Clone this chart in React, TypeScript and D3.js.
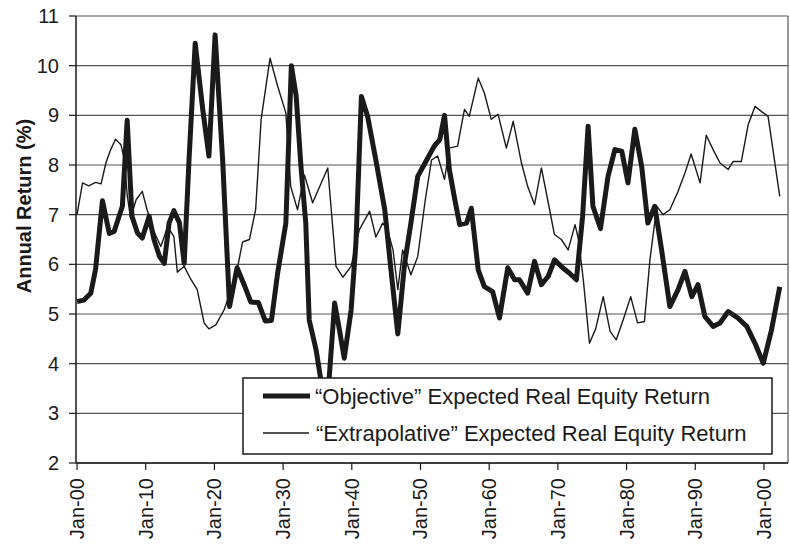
import React from "react";
import * as d3 from "d3";

const objYears = [1900.0, 1901.0, 1902.0, 1902.7, 1903.7, 1904.7, 1905.4, 1906.6, 1907.3, 1908.0, 1908.8, 1909.5, 1910.5, 1911.2, 1912.0, 1912.7, 1913.4, 1914.1, 1914.9, 1915.6, 1916.3, 1917.2, 1918.3, 1919.2, 1920.1, 1921.2, 1922.2, 1923.3, 1924.3, 1925.3, 1926.4, 1927.4, 1928.3, 1929.2, 1930.4, 1931.2, 1931.9, 1932.6, 1933.3, 1933.8, 1934.8, 1935.5, 1936.0, 1936.7, 1937.5, 1938.2, 1938.9, 1939.9, 1940.6, 1941.4, 1942.3, 1943.5, 1944.8, 1945.7, 1946.7, 1947.7, 1948.6, 1949.6, 1950.7, 1952.0, 1952.8, 1953.5, 1954.2, 1955.0, 1955.7, 1956.7, 1957.4, 1958.4, 1959.3, 1960.5, 1961.5, 1962.7, 1963.7, 1964.4, 1965.6, 1966.6, 1967.6, 1968.6, 1969.5, 1970.7, 1971.7, 1972.7, 1973.6, 1974.4, 1975.1, 1976.2, 1977.3, 1978.3, 1979.3, 1980.2, 1981.2, 1982.2, 1983.1, 1984.1, 1985.1, 1986.3, 1987.5, 1988.5, 1989.5, 1990.4, 1991.4, 1992.6, 1993.6, 1994.8, 1996.2, 1997.5, 1998.7, 1999.9, 2001.1, 2002.3];
const objValues = [5.25, 5.28, 5.42, 5.9, 7.28, 6.62, 6.66, 7.17, 8.9, 6.97, 6.63, 6.53, 6.97, 6.5, 6.16, 6.02, 6.83, 7.08, 6.84, 6.02, 8.1, 10.45, 9.12, 8.18, 10.62, 8.1, 5.15, 5.93, 5.6, 5.24, 5.23, 4.86, 4.87, 5.82, 6.83, 10.0, 9.39, 7.97, 6.83, 4.88, 4.28, 3.67, 3.4, 3.7, 5.22, 4.68, 4.11, 5.08, 6.43, 9.38, 8.98, 8.1, 7.1, 5.89, 4.6, 6.03, 6.83, 7.77, 8.05, 8.38, 8.51, 9.0, 7.91, 7.3, 6.8, 6.83, 7.13, 5.89, 5.55, 5.45, 4.92, 5.93, 5.69, 5.69, 5.42, 6.06, 5.59, 5.76, 6.09, 5.93, 5.82, 5.69, 6.97, 8.78, 7.17, 6.72, 7.77, 8.31, 8.28, 7.64, 8.72, 7.97, 6.83, 7.17, 6.29, 5.15, 5.49, 5.86, 5.35, 5.59, 4.95, 4.75, 4.82, 5.05, 4.92, 4.75, 4.41, 4.01, 4.68, 5.55];

const extYears = [1900.0, 1900.8, 1901.7, 1902.7, 1903.5, 1904.2, 1904.9, 1905.6, 1906.4, 1906.9, 1907.3, 1907.8, 1908.6, 1909.5, 1910.2, 1911.2, 1912.2, 1913.2, 1914.1, 1914.6, 1915.6, 1916.6, 1917.5, 1918.5, 1919.2, 1920.2, 1921.4, 1922.6, 1923.4, 1924.1, 1925.1, 1926.0, 1926.8, 1928.1, 1929.2, 1930.4, 1931.1, 1932.1, 1933.1, 1934.3, 1936.5, 1937.7, 1938.7, 1939.9, 1941.1, 1942.6, 1943.5, 1944.5, 1945.2, 1946.0, 1946.7, 1947.4, 1948.6, 1949.6, 1950.7, 1951.6, 1952.5, 1953.5, 1954.2, 1955.4, 1956.4, 1957.1, 1958.4, 1959.3, 1960.3, 1961.3, 1962.5, 1963.5, 1964.7, 1965.6, 1966.6, 1967.6, 1968.6, 1969.5, 1970.5, 1971.5, 1972.5, 1973.0, 1973.7, 1974.6, 1975.5, 1976.6, 1977.6, 1978.5, 1979.5, 1980.6, 1981.6, 1982.6, 1983.4, 1984.4, 1985.3, 1986.3, 1987.5, 1988.5, 1989.4, 1990.7, 1991.6, 1992.6, 1993.6, 1994.8, 1995.5, 1996.7, 1997.7, 1998.7, 1999.7, 2000.6, 2002.3];
const extValues = [7.0, 7.64, 7.58, 7.65, 7.62, 8.04, 8.31, 8.52, 8.41, 8.1, 7.4, 6.92, 7.3, 7.47, 7.1, 6.66, 6.36, 6.76, 6.56, 5.84, 5.96, 5.69, 5.49, 4.82, 4.7, 4.78, 5.08, 5.55, 5.96, 6.45, 6.5, 7.1, 8.92, 10.15, 9.59, 9.05, 7.57, 7.1, 7.8, 7.24, 7.94, 5.96, 5.74, 5.96, 6.7, 7.07, 6.55, 6.83, 6.7, 6.29, 5.49, 6.29, 5.79, 6.16, 7.3, 8.1, 8.18, 7.71, 8.34, 8.38, 9.12, 8.98, 9.75, 9.45, 8.92, 9.02, 8.34, 8.88, 8.04, 7.57, 7.2, 7.94, 7.24, 6.6, 6.5, 6.29, 6.8, 6.5, 5.69, 4.41, 4.7, 5.35, 4.65, 4.48, 4.88, 5.35, 4.82, 4.85, 6.09, 7.17, 7.0, 7.1, 7.47, 7.84, 8.22, 7.64, 8.6, 8.31, 8.04, 7.91, 8.07, 8.07, 8.81, 9.18, 9.07, 8.98, 7.37];

const xTickYears = [1900, 1910, 1920, 1930, 1940, 1950, 1960, 1970, 1980, 1990, 2000];
const xTickLabels = ["Jan-00", "Jan-10", "Jan-20", "Jan-30", "Jan-40", "Jan-50", "Jan-60", "Jan-70", "Jan-80", "Jan-90", "Jan-00"];
const yTicks = [2, 3, 4, 5, 6, 7, 8, 9, 10, 11];
const seriesNames = ["\u201CObjective\u201D Expected Real Equity Return", "\u201CExtrapolative\u201D Expected Real Equity Return"];
const yTitle = "Annual Return (%)";

const FONT = "'Liberation Sans', Arial, Helvetica, sans-serif";

export default function App() {
  const left = 76, right = 788, top = 16, bottom = 463;
  const x = d3.scaleLinear().domain([1899.85, 2003.5]).range([left, right]);
  const y = d3.scaleLinear().domain([2, 11]).range([bottom, top]);
  const line = d3.line<[number, number]>().x((d) => x(d[0])).y((d) => y(d[1])).curve(d3.curveLinear);
  const objData = objYears.map((yr, i) => [yr, objValues[i]] as [number, number]);
  const extData = extYears.map((yr, i) => [yr, extValues[i]] as [number, number]);
  const ink = "#1a1a1a";

  const lg = { x: 243, y: 378, w: 529, h: 76 };

  return (
    <svg width={790} height={544} style={{ position: "absolute", left: 0, top: 0, background: "#fff" }} fontFamily={FONT}>
      <rect x={0} y={0} width={790} height={544} fill="#fff" />
      {yTicks.map((t) => (
        <line key={"g" + t} x1={left} x2={right} y1={y(t)} y2={y(t)} stroke="#555" strokeWidth={1.2} />
      ))}
      <line x1={right} x2={right} y1={top} y2={bottom} stroke="#555" strokeWidth={1.2} />
      <path d={line(extData) || ""} fill="none" stroke={ink} strokeWidth={1.4} strokeLinejoin="round" />
      <path d={line(objData) || ""} fill="none" stroke={ink} strokeWidth={5} strokeLinejoin="round" />
      <line x1={left} x2={left} y1={top} y2={bottom} stroke={ink} strokeWidth={1.5} />
      <line x1={left} x2={right} y1={bottom} y2={bottom} stroke={ink} strokeWidth={1.5} />
      {yTicks.map((t) => (
        <g key={"yt" + t}>
          <line x1={left - 7} x2={left} y1={y(t)} y2={y(t)} stroke={ink} strokeWidth={1.2} />
          <text x={59} y={y(t)} dy="0.35em" textAnchor="end" fontSize={20} fill={ink}>{t}</text>
        </g>
      ))}
      {xTickYears.map((yr, i) => (
        <g key={"xt" + i}>
          <line x1={x(yr)} x2={x(yr)} y1={bottom} y2={bottom + 7} stroke={ink} strokeWidth={1.2} />
          <text transform={`translate(${x(yr)},${bottom + 15}) rotate(-90)`} dy="0.35em" textAnchor="end" fontSize={20} fill={ink}>{xTickLabels[i]}</text>
        </g>
      ))}
      <text transform={`translate(24,206) rotate(-90)`} dy="0.35em" textAnchor="middle" fontSize={20} fontWeight="bold" fill={ink}>{yTitle}</text>
      <rect x={lg.x} y={lg.y} width={lg.w} height={lg.h} fill="#fff" stroke={ink} strokeWidth={1.5} />
      <line x1={263} x2={310} y1={396} y2={396} stroke={ink} strokeWidth={5} />
      <line x1={263} x2={309} y1={433} y2={433} stroke={ink} strokeWidth={1.4} />
      <text x={315} y={396} dy="0.35em" fontSize={22} fill={ink}>{seriesNames[0]}</text>
      <text x={316} y={433} dy="0.35em" fontSize={22} fill={ink}>{seriesNames[1]}</text>
    </svg>
  );
}
